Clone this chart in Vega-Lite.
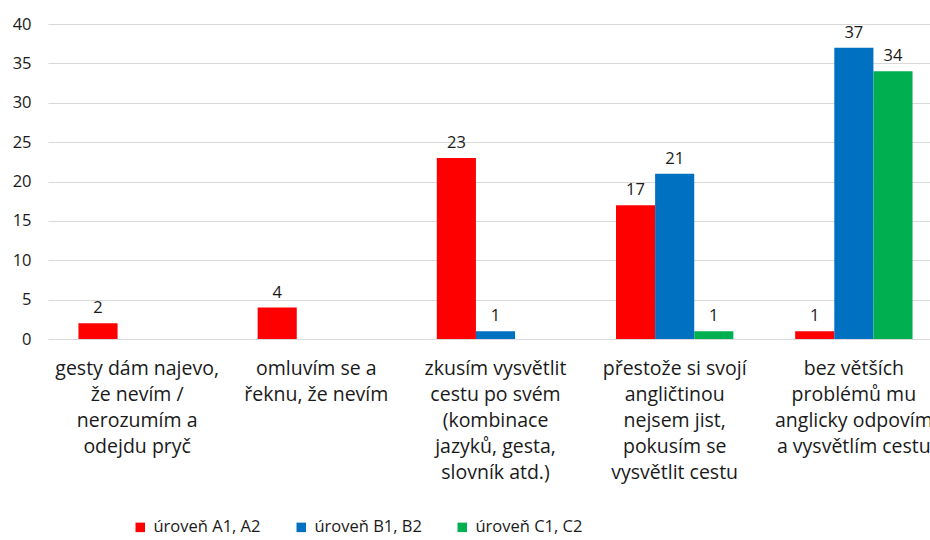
{
  "$schema": "https://vega.github.io/schema/vega-lite/v6.json",
  "width": 882,
  "height": 315,
  "autosize": {"type": "none"},
  "padding": {"left": 48, "top": 24, "right": 0, "bottom": 201},
  "background": "white",
  "config": {
    "font": "Open Sans",
    "view": {"stroke": null},
    "text": {"font": "Open Sans"}
  },
  "data": {
    "values": [
      {"kategorie": "gesty dám najevo, že nevím / nerozumím a odejdu pryč", "uroven": "úroveň A1, A2", "pocet": 2},
      {"kategorie": "gesty dám najevo, že nevím / nerozumím a odejdu pryč", "uroven": "úroveň B1, B2", "pocet": 0},
      {"kategorie": "gesty dám najevo, že nevím / nerozumím a odejdu pryč", "uroven": "úroveň C1, C2", "pocet": 0},
      {"kategorie": "omluvím se a řeknu, že nevím", "uroven": "úroveň A1, A2", "pocet": 4},
      {"kategorie": "omluvím se a řeknu, že nevím", "uroven": "úroveň B1, B2", "pocet": 0},
      {"kategorie": "omluvím se a řeknu, že nevím", "uroven": "úroveň C1, C2", "pocet": 0},
      {"kategorie": "zkusím vysvětlit cestu po svém (kombinace jazyků, gesta, slovník atd.)", "uroven": "úroveň A1, A2", "pocet": 23},
      {"kategorie": "zkusím vysvětlit cestu po svém (kombinace jazyků, gesta, slovník atd.)", "uroven": "úroveň B1, B2", "pocet": 1},
      {"kategorie": "zkusím vysvětlit cestu po svém (kombinace jazyků, gesta, slovník atd.)", "uroven": "úroveň C1, C2", "pocet": 0},
      {"kategorie": "přestože si svojí angličtinou nejsem jist, pokusím se vysvětlit cestu", "uroven": "úroveň A1, A2", "pocet": 17},
      {"kategorie": "přestože si svojí angličtinou nejsem jist, pokusím se vysvětlit cestu", "uroven": "úroveň B1, B2", "pocet": 21},
      {"kategorie": "přestože si svojí angličtinou nejsem jist, pokusím se vysvětlit cestu", "uroven": "úroveň C1, C2", "pocet": 1},
      {"kategorie": "bez větších problémů mu anglicky odpovím a vysvětlím cestu", "uroven": "úroveň A1, A2", "pocet": 1},
      {"kategorie": "bez větších problémů mu anglicky odpovím a vysvětlím cestu", "uroven": "úroveň B1, B2", "pocet": 37},
      {"kategorie": "bez větších problémů mu anglicky odpovím a vysvětlím cestu", "uroven": "úroveň C1, C2", "pocet": 34}
    ]
  },
  "encoding": {
    "x": {
      "field": "kategorie",
      "type": "nominal",
      "sort": null,
      "scale": {"range": [0, 895], "paddingInner": 0.345, "paddingOuter": 0.17},
      "axis": {
        "title": null,
        "domain": false,
        "ticks": false,
        "labelAngle": 0,
        "labelFont": "Open Sans",
        "labelFontSize": 19.5,
        "labelColor": "#1a1a1a",
        "labelPadding": 29,
        "labelLineHeight": 26,
        "labelLimit": 0,
        "labelBaseline": "middle",
        "labelExpr": "datum.value == 'gesty dám najevo, že nevím / nerozumím a odejdu pryč' ? ['gesty dám najevo,', 'že nevím /', 'nerozumím a', 'odejdu pryč'] : datum.value == 'omluvím se a řeknu, že nevím' ? ['omluvím se a', 'řeknu, že nevím'] : datum.value == 'zkusím vysvětlit cestu po svém (kombinace jazyků, gesta, slovník atd.)' ? ['zkusím vysvětlit', 'cestu po svém', '(kombinace', 'jazyků, gesta,', 'slovník atd.)'] : datum.value == 'přestože si svojí angličtinou nejsem jist, pokusím se vysvětlit cestu' ? ['přestože si svojí', 'angličtinou', 'nejsem jist,', 'pokusím se', 'vysvětlit cestu'] : ['bez větších', 'problémů mu', 'anglicky odpovím', 'a vysvětlím cestu']"
      }
    },
    "xOffset": {
      "field": "uroven",
      "type": "nominal",
      "sort": ["úroveň A1, A2", "úroveň B1, B2", "úroveň C1, C2"],
      "scale": {"paddingInner": 0, "paddingOuter": 0}
    },
    "y": {
      "field": "pocet",
      "type": "quantitative",
      "scale": {"domain": [0, 40]},
      "axis": {
        "title": null,
        "values": [0, 5, 10, 15, 20, 25, 30, 35, 40],
        "domain": false,
        "ticks": false,
        "labelFont": "Open Sans",
        "labelFontSize": 16.5,
        "labelColor": "#1a1a1a",
        "labelPadding": 17,
        "gridColor": "#d9d9d9",
        "gridWidth": 1
      }
    }
  },
  "layer": [
    {
      "mark": {"type": "bar"},
      "encoding": {
        "color": {
          "field": "uroven",
          "type": "nominal",
          "sort": ["úroveň A1, A2", "úroveň B1, B2", "úroveň C1, C2"],
          "scale": {
            "domain": ["úroveň A1, A2", "úroveň B1, B2", "úroveň C1, C2"],
            "range": ["#ff0000", "#0070c0", "#00b050"]
          },
          "legend": {
            "title": null,
            "orient": "none",
            "legendX": 84,
            "legendY": 495,
            "padding": 0,
            "direction": "horizontal",
            "symbolType": "square",
            "symbolSize": 90,
            "symbolStrokeWidth": 0,
            "labelFont": "Open Sans",
            "labelFontSize": 16.5,
            "labelColor": "#1a1a1a",
            "labelOffset": 5,
            "columnPadding": 32,
            "labelLimit": 0
          }
        }
      }
    },
    {
      "transform": [{"filter": "datum.pocet > 0"}],
      "mark": {"type": "text", "dy": -15, "fontSize": 16.5, "color": "#1a1a1a"},
      "encoding": {
        "text": {"field": "pocet", "type": "quantitative"}
      }
    }
  ]
}
